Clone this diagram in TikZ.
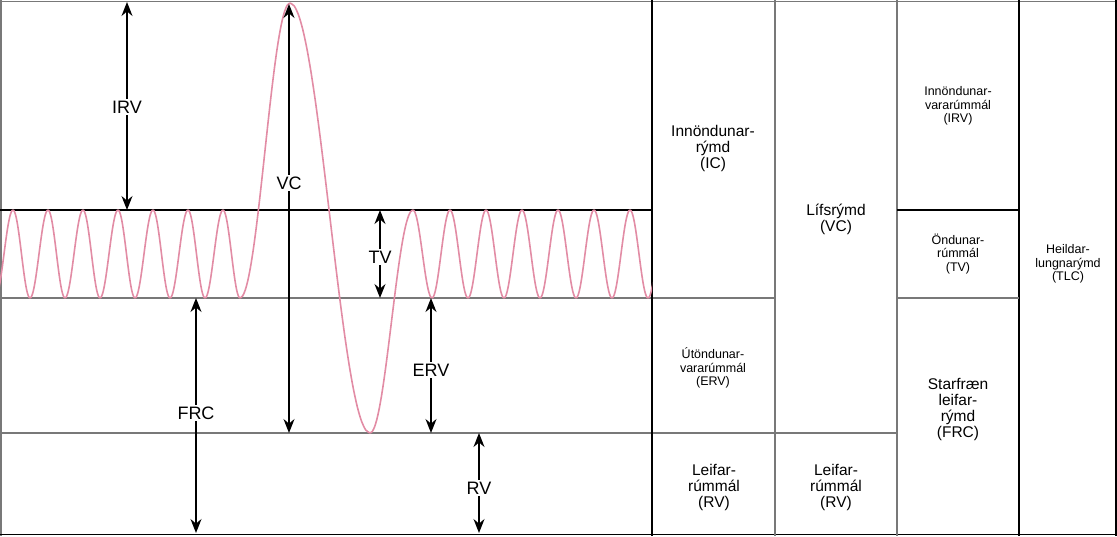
\documentclass[tikz,border=0pt]{standalone}
\usepackage{fontspec}
\setmainfont{Liberation Sans}
\usetikzlibrary{arrows.meta}
\definecolor{curve}{RGB}{226,140,165}
\definecolor{gline}{RGB}{120,120,120}
\begin{document}
\begin{tikzpicture}[x=1pt,y=-1pt,
  blk/.style={black,line width=1.3pt},
  gry/.style={gline,line width=1.3pt},
  dim/.style={{Stealth[length=14pt,width=11pt]}-{Stealth[length=14pt,width=11pt]},line width=1.4pt},
  lbl/.style={fill=white,inner sep=2pt,font=\fontsize{18}{19}\selectfont},
  big/.style={align=center,font=\fontsize{15.5}{16}\selectfont},
  sml/.style={align=center,font=\fontsize{12.5}{13.5}\selectfont}]
\useasboundingbox (0,0) rectangle (1117,536);
% frame lines
\draw[gry] (1,0) -- (1,536);
\draw[gry] (0,1.5) -- (1117,1.5);
\draw[blk] (0,534.5) -- (1117,534.5);
\draw[blk] (1116,0) -- (1116,536);
\draw[blk] (0,210) -- (652,210);
\draw[gry] (0,298) -- (775,298);
\draw[gry] (0,433) -- (897,433);
\draw[blk] (652,0) -- (652,536);
\draw[gry] (775,0) -- (775,536);
\draw[gry] (897,0) -- (897,536);
\draw[blk] (1019,0) -- (1019,536);
\draw[blk] (897,210) -- (1019,210);
\draw[gry] (897,298) -- (1019,298);
% curve
\begin{scope}
\clip (0,0) rectangle (652,536);
\foreach \xa/\ya/\xb/\yb in {-5/298/13/210,13/210/30/298,30/298/48/210,48/210/65/298,65/298/83/210,83/210/100/298,100/298/118/210,118/210/135/298,135/298/153/210,153/210/170/298,170/298/188/210,188/210/205/298,205/298/223/210,223/210/240/298,240/298/290/3,290/3/370/433,370/433/413/210,413/210/432/298,432/298/450/210,450/210/468/298,468/298/486/210,486/210/504/298,504/298/522/210,522/210/540/298,540/298/558/210,558/210/576/298,576/298/594/210,594/210/612/298,612/298/630/210,630/210/648/298,648/298/666/210}
  \draw[curve,line width=1.6pt] plot[domain=0:1,samples=20,smooth] ({\xa+\x*(\xb-\xa)},{(\ya+\yb)/2+(\ya-\yb)/2*cos(180*\x)});
\end{scope}
% dimension arrows
\coordinate (irvT) at (127,2); \coordinate (irvB) at (127,210);
\draw[dim] (irvT) -- (irvB); \node[lbl] (irv) at (127,107) {IRV};
\coordinate (vcT) at (289,4); \coordinate (vcB) at (289,433);
\draw[dim] (vcT) -- (vcB); \node[lbl] (vc) at (289,183) {VC};
\coordinate (tvT) at (380,210); \coordinate (tvB) at (380,298);
\draw[dim] (tvT) -- (tvB); \node[lbl] (tv) at (380,257) {TV};
\coordinate (frcT) at (196,298); \coordinate (frcB) at (196,533);
\draw[dim] (frcT) -- (frcB); \node[lbl] (frc) at (196,413) {FRC};
\coordinate (ervT) at (431,298); \coordinate (ervB) at (431,433);
\draw[dim] (ervT) -- (ervB); \node[lbl] (erv) at (431,370) {ERV};
\coordinate (rvT) at (479,433); \coordinate (rvB) at (479,533);
\draw[dim] (rvT) -- (rvB); \node[lbl] (rv) at (479,488) {RV};
% table labels
\node[big] (t1) at (713,148) {Innöndunar-\\rýmd\\(IC)};
\node[sml] (t2) at (713,368) {Útöndunar-\\vararúmmál\\(ERV)};
\node[big] (t3) at (714,487) {Leifar-\\rúmmál\\(RV)};
\node[big] (t4) at (836,219) {Lífsrýmd\\(VC)};
\node[big] (t5) at (836,487) {Leifar-\\rúmmál\\(RV)};
\node[sml] (t6) at (958,106) {Innöndunar-\\vararúmmál\\(IRV)};
\node[sml] (t7) at (958,254) {Öndunar-\\rúmmál\\(TV)};
\node[big] (t8) at (958,409) {Starfræn\\leifar-\\rýmd\\(FRC)};
\node[sml] (t9) at (1068,264) {Heildar-\\lungnarýmd\\(TLC)};
\end{tikzpicture}
\end{document}
